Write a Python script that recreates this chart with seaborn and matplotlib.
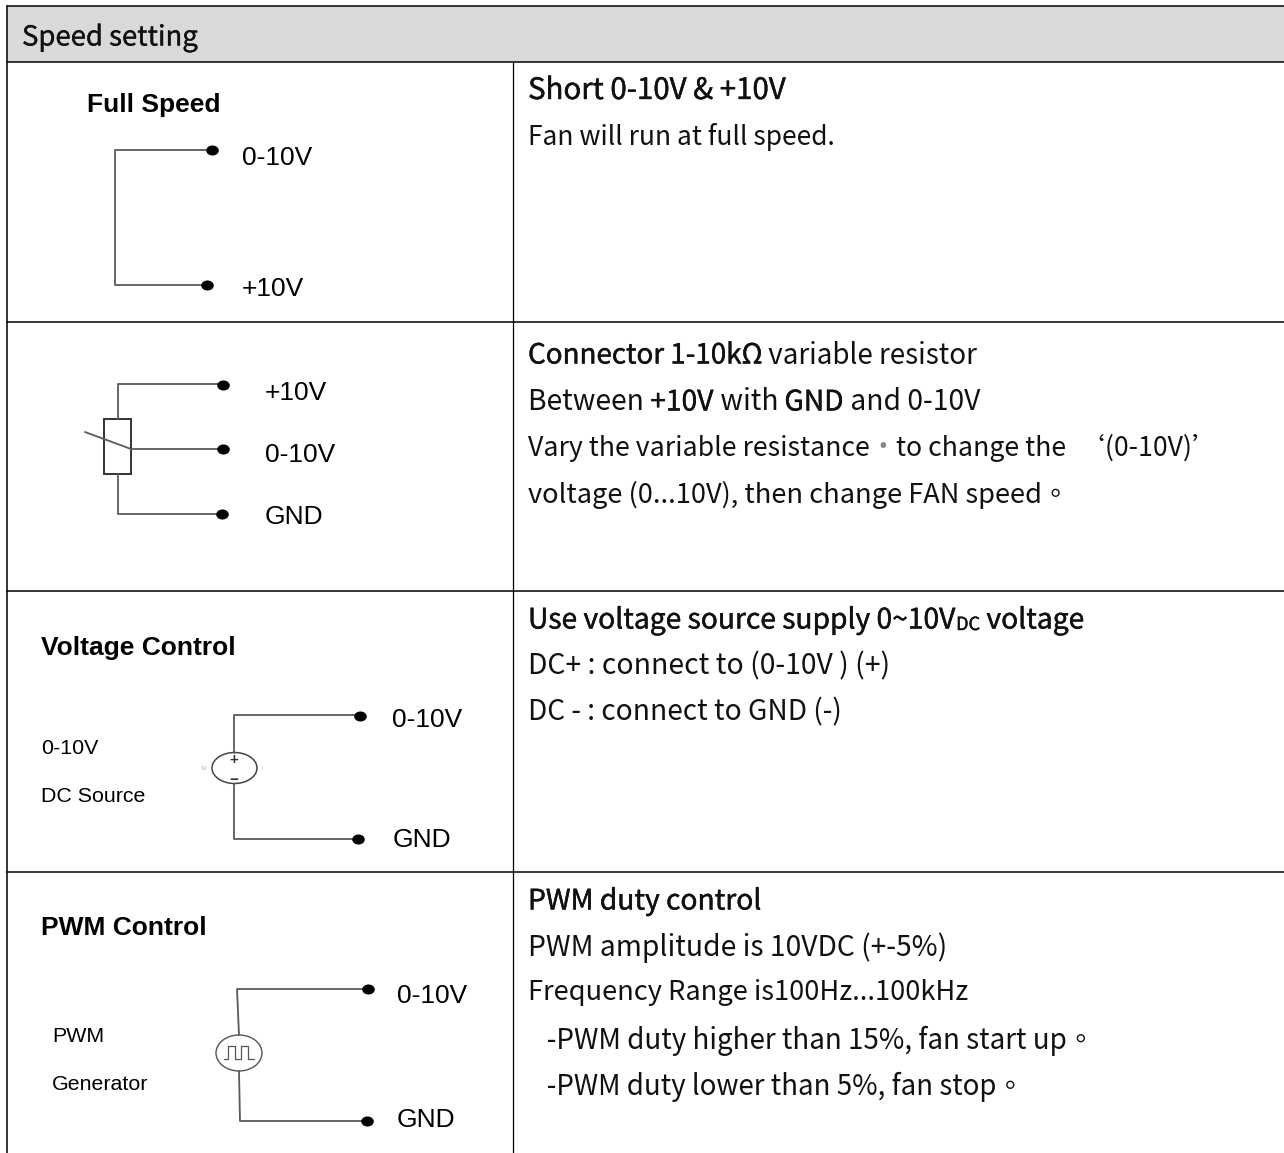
import matplotlib
matplotlib.use("Agg")
import matplotlib.pyplot as plt
from matplotlib.markers import MarkerStyle
from matplotlib.patches import Ellipse, Rectangle
from matplotlib.patheffects import withStroke
from matplotlib.transforms import Affine2D
import pandas as pd
import seaborn as sns

# table geometry in pixels
header_title = "Speed setting"
row_lines = [62, 322, 591, 872]
divider_x = 513

# wires: (name, xs, ys)
wire_names = ["full", "r_top", "r_mid", "r_low", "r_wiper", "v_top", "v_low", "p_top", "p_low"]
wire_xs = [[212, 115, 115, 207], [223, 118, 118], [131, 223], [118, 118, 222], [85, 131],
           [358, 234, 234], [234, 234, 358], [368, 237, 239], [239, 240, 367]]
wire_ys = [[150, 150, 285, 285], [384, 384, 419], [449, 449], [474, 514, 514], [432, 449],
           [715, 715, 753], [784, 839, 839], [989, 989, 1035], [1071, 1121, 1121]]
pulse_x = [224, 228, 228, 235, 235, 241, 241, 248, 248, 254]
pulse_y = [1059, 1059, 1046, 1046, 1059, 1059, 1046, 1046, 1059, 1059]

dot_x = [212, 207, 223, 223, 222, 360, 358, 368, 367]
dot_y = [150, 285, 385, 449, 514, 716, 839, 989, 1121]

# left column labels
diagram_text = ["Full Speed", "0-10V", "+10V", "+10V", "0-10V", "GND", "Voltage Control", "0-10V",
                "DC Source", "0-10V", "GND", "PWM Control", "PWM", "Generator", "0-10V", "GND"]
diagram_x = [87, 242, 242, 265, 265, 265, 41, 41, 41, 392, 393, 41, 52, 52, 397, 397]
diagram_y = [105, 158, 289, 393, 455, 517, 648, 748, 797, 720, 840, 928, 1037, 1085, 996, 1120]
diagram_size = [19, 19, 19, 19, 19, 19, 19, 15.4, 15.4, 19, 19, 19, 15.4, 15.4, 19, 19]
diagram_bold = [1, 0, 0, 0, 0, 0, 1, 0, 0, 0, 0, 1, 0, 0, 0, 0]

# right column: each line is a list of runs; run = (text, style)
notes_y = [87, 134, 352, 399, 445, 492, 617, 663, 709, 898, 944, 990, 1037, 1083]
notes_size = [21.2, 19, 20, 20.3, 19.2, 19.6, 20.3, 20.4, 20.2, 20.3, 20.3, 19.6, 20, 19.9]
notes = [
    [("Short 0-10V & +10V", "medium")],
    [("Fan will run at full speed.", "normal")],
    [("Connector 1-10kΩ", "medium"), (" variable resistor", "normal")],
    [("Between ", "normal"), ("+10V", "medium"), (" with ", "normal"), ("GND", "medium"), (" and 0-10V", "normal")],
    [("Vary the variable resistance", "normal"), ("‧", "mark"), ("to change the  ‘(0-10V)’", "normal")],
    [("voltage (0...10V), then change FAN speed。", "normal")],
    [("Use voltage source supply 0~10V", "medium"), ("DC", "sub"), (" voltage", "medium")],
    [("DC+ : connect to (0-10V ) (+)", "normal")],
    [("DC - : connect to GND (-)", "normal")],
    [("PWM duty control", "medium")],
    [("PWM amplitude is 10VDC (+-5%)", "normal")],
    [("Frequency Range is100Hz...100kHz", "normal")],
    [("   -PWM duty higher than 15%, fan start up。", "normal")],
    [("   -PWM duty lower than 5%, fan stop。", "normal")],
]

sns.set_theme(style="white")
NOTE_FONT = ["Noto Sans CJK TC", "DejaVu Sans"]
LABEL_FONT = "Liberation Sans"

fig = plt.figure(figsize=(12.84, 11.53), dpi=100)
ax = fig.add_axes([0, 0, 1, 1])
ax.axis("off")

# header band and table rules
ax.add_patch(Rectangle((7, 6), 1277, 56, fc="#d9d9d9", ec="none"))
for y in [6] + row_lines:
    ax.plot([7, 1284], [y, y], color="black", lw=1.1)
ax.plot([7, 7], [6, 1153], color="black", lw=1.1)
ax.plot([divider_x, divider_x], [row_lines[0], 1153], color="black", lw=0.9)
ax.text(22, 38, header_title, family=NOTE_FONT, fontsize=19.8, va="center", color="#111111",
        path_effects=[withStroke(linewidth=0.2, foreground="#111111")])

# wires and terminals
wires = pd.DataFrame({
    "wire": [n for n, xs in zip(wire_names, wire_xs) for _ in xs],
    "x": [v for xs in wire_xs for v in xs],
    "y": [v for ys in wire_ys for v in ys],
})
sns.lineplot(data=wires, x="x", y="y", units="wire", estimator=None, sort=False,
             color="#5a5a5a", lw=1.3, ax=ax, legend=False)
sns.lineplot(x=pulse_x, y=pulse_y, estimator=None, sort=False, color="#555555", lw=0.9, ax=ax, legend=False)
dot_marker = MarkerStyle("o", transform=Affine2D().scale(1.15, 0.92))
sns.scatterplot(x=dot_x, y=dot_y, s=62, color="black", marker=dot_marker, linewidth=0, ax=ax, legend=False, zorder=4)
ax.set_xlim(0, 1284)
ax.set_ylim(1153, 0)

# resistor body and source symbols
ax.add_patch(Rectangle((104, 419), 27, 55, fc="none", ec="#333333", lw=1.4))
ax.add_patch(Ellipse((234.5, 768), 45, 31, fc="none", ec="#444444", lw=1.1))
ax.add_patch(Ellipse((239, 1053), 46, 36, fc="none", ec="#555555", lw=1.0))
ax.text(234, 760, "+", family=LABEL_FONT, fontsize=11, weight="bold", ha="center", va="center", color="#333333")
ax.text(234, 780, "−", family=LABEL_FONT, fontsize=11, weight="bold", ha="center", va="center", color="#333333")
ax.text(204, 768, "1V", family=LABEL_FONT, fontsize=4, ha="center", va="center", color="#aaaaaa")

for txt, x, y, size, bold in zip(diagram_text, diagram_x, diagram_y, diagram_size, diagram_bold):
    ax.text(x, y, txt, family=LABEL_FONT, fontsize=size, va="center", color="black",
            weight="bold" if bold else "normal")

# notes are built from runs, each run starts where the last one ended
fig.canvas.draw()
renderer = fig.canvas.get_renderer()
for y, runs, line_size in zip(notes_y, notes, notes_size):
    x = 528
    for txt, style in runs:
        size = 13 if style == "sub" else line_size
        yy = y + 6 if style == "sub" else y
        color = "#888888" if style == "mark" else "#111111"
        t = ax.text(x, yy, txt, family=NOTE_FONT, fontsize=size, va="center_baseline", color=color)
        if style in ("medium", "sub"):
            t.set_path_effects([withStroke(linewidth=0.3, foreground="#111111")])
        x += t._get_layout(renderer)[0].width

fig.savefig("out.png", dpi=100)
